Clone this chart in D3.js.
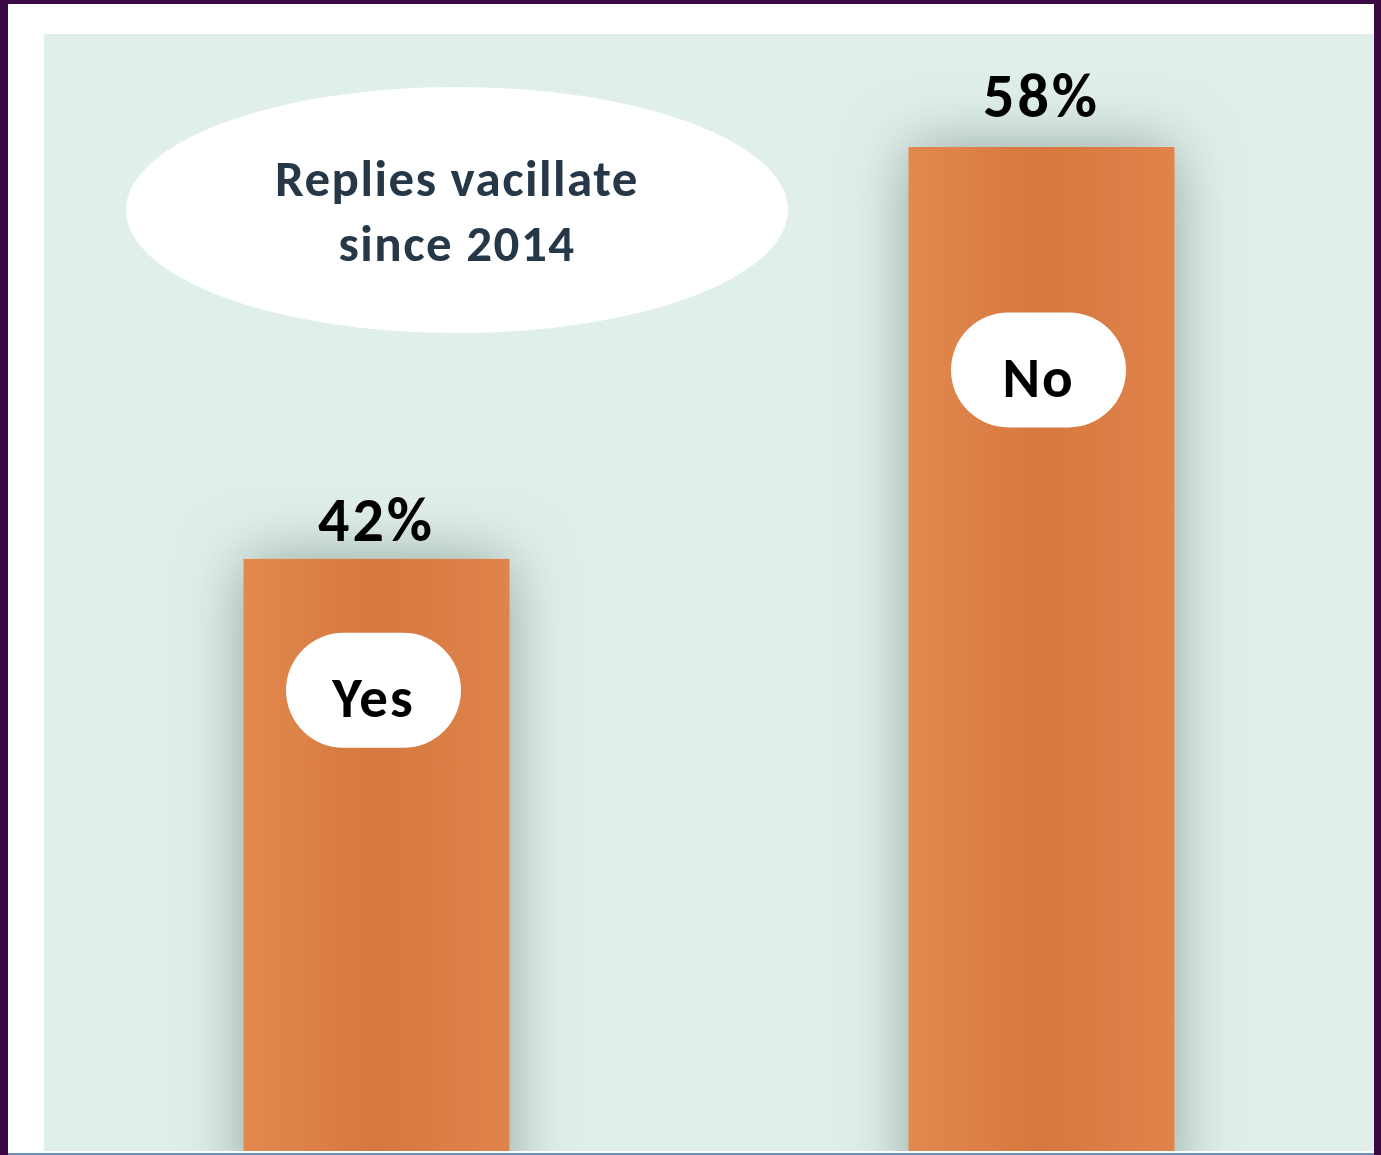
<!DOCTYPE html>
<html>
<head>
<meta charset="utf-8">
<script src="https://cdn.jsdelivr.net/npm/d3@7"></script>
<style>
  html, body { margin: 0; padding: 0; background: #fff; }
  svg { display: block; }
</style>
</head>
<body>
<svg id="chart"></svg>
<script>
const categories = ["Yes", "No"];
const values = [42, 58];
const valueLabels = ["42%", "58%"];
const titleLines = ["Replies vacillate", "since 2014"];

const chartSize = { width: 1381, height: 1155 };
const panel = { left: 44, top: 34, right: 1374, bottom: 1151 };

const svg = d3.select("#chart")
  .attr("width", chartSize.width)
  .attr("height", chartSize.height);

const defs = svg.append("defs");

const glow = defs.append("filter")
  .attr("id", "glow")
  .attr("x", "-60%").attr("y", "-60%")
  .attr("width", "220%").attr("height", "220%");
glow.append("feDropShadow")
  .attr("dx", 0).attr("dy", 0)
  .attr("stdDeviation", 32)
  .attr("flood-color", "#5a726b")
  .attr("flood-opacity", 0.6);

const grad = defs.append("linearGradient").attr("id", "barFill");
[["0%", "#e2894f"], ["50%", "#d6783f"], ["100%", "#e0844c"]]
  .forEach(([o, c]) => grad.append("stop").attr("offset", o).attr("stop-color", c));

defs.append("clipPath").attr("id", "panelClip")
  .append("rect")
  .attr("x", panel.left).attr("y", panel.top)
  .attr("width", panel.right - panel.left)
  .attr("height", panel.bottom - panel.top);

// frame
svg.append("rect").attr("width", chartSize.width).attr("height", chartSize.height).attr("fill", "#3b0a45");
svg.append("rect").attr("x", 8).attr("y", 4)
  .attr("width", panel.right - 8).attr("height", chartSize.height - 4).attr("fill", "#fff");
svg.append("rect").attr("x", 0).attr("y", 1153).attr("width", chartSize.width).attr("height", 2).attr("fill", "#6d8fb5");
svg.append("rect").attr("x", 0).attr("y", 1153).attr("width", 8).attr("height", 2).attr("fill", "#3b0a45");
svg.append("rect").attr("x", panel.right).attr("y", 1153).attr("width", 7).attr("height", 2).attr("fill", "#3b0a45");

svg.append("rect")
  .attr("x", panel.left).attr("y", panel.top)
  .attr("width", panel.right - panel.left)
  .attr("height", panel.bottom - panel.top)
  .attr("fill", "#e1efea");

const x = d3.scaleBand()
  .domain(categories)
  .range([panel.left, panel.right])
  .paddingInner(0.6)
  .paddingOuter(0.3);

const y = d3.scaleLinear()
  .domain([19, 58])
  .range([panel.bottom, 147]);

const g = svg.append("g").attr("clip-path", "url(#panelClip)");

const data = categories.map((c, i) => ({ cat: c, v: values[i], label: valueLabels[i] }));
const barH = d => panel.bottom - y(d.v);

g.selectAll("rect.bar")
  .data(data)
  .join("rect")
  .attr("class", "bar")
  .attr("x", d => x(d.cat))
  .attr("y", d => y(d.v))
  .attr("width", x.bandwidth())
  .attr("height", d => barH(d) + 60)
  .attr("fill", "url(#barFill)")
  .attr("filter", "url(#glow)");

const font = "Carlito, Calibri, Lato, 'Open Sans', sans-serif";

svg.selectAll("text.value")
  .data(data)
  .join("text")
  .attr("class", "value")
  .attr("x", d => x(d.cat) + x.bandwidth() / 2)
  .attr("y", d => y(d.v) - 0.03 * barH(d))
  .attr("text-anchor", "middle")
  .attr("font-family", font)
  .attr("font-weight", "bold")
  .attr("font-size", 62)
  .attr("letter-spacing", 3)
  .attr("fill", "#000")
  .text(d => d.label);

const pillW = 175, pillH = 115;
const pills = svg.selectAll("g.pill")
  .data(data)
  .join("g")
  .attr("class", "pill")
  .attr("transform", d => `translate(${x(d.cat) + x.bandwidth() / 2 - 3},${y(d.v) + 0.222 * barH(d)})`);

pills.append("rect")
  .attr("x", -pillW / 2).attr("y", -pillH / 2)
  .attr("width", pillW).attr("height", pillH)
  .attr("rx", pillH / 2)
  .attr("fill", "#fff");

pills.append("text")
  .attr("text-anchor", "middle")
  .attr("y", 27)
  .attr("font-family", font)
  .attr("font-weight", "bold")
  .attr("font-size", 57)
  .attr("letter-spacing", 2)
  .attr("fill", "#000")
  .text(d => d.cat);

// title bubble
svg.append("ellipse")
  .attr("cx", 457).attr("cy", 210)
  .attr("rx", 331).attr("ry", 123)
  .attr("fill", "#fff");

svg.append("text")
  .attr("text-anchor", "middle")
  .attr("font-family", font)
  .attr("font-weight", "bold")
  .attr("font-size", 51)
  .attr("letter-spacing", 1.5)
  .attr("fill", "#263848")
  .selectAll("tspan")
  .data(titleLines)
  .join("tspan")
  .attr("x", 457)
  .attr("y", (d, i) => 196 + i * 65)
  .text(d => d);
</script>
</body>
</html>
